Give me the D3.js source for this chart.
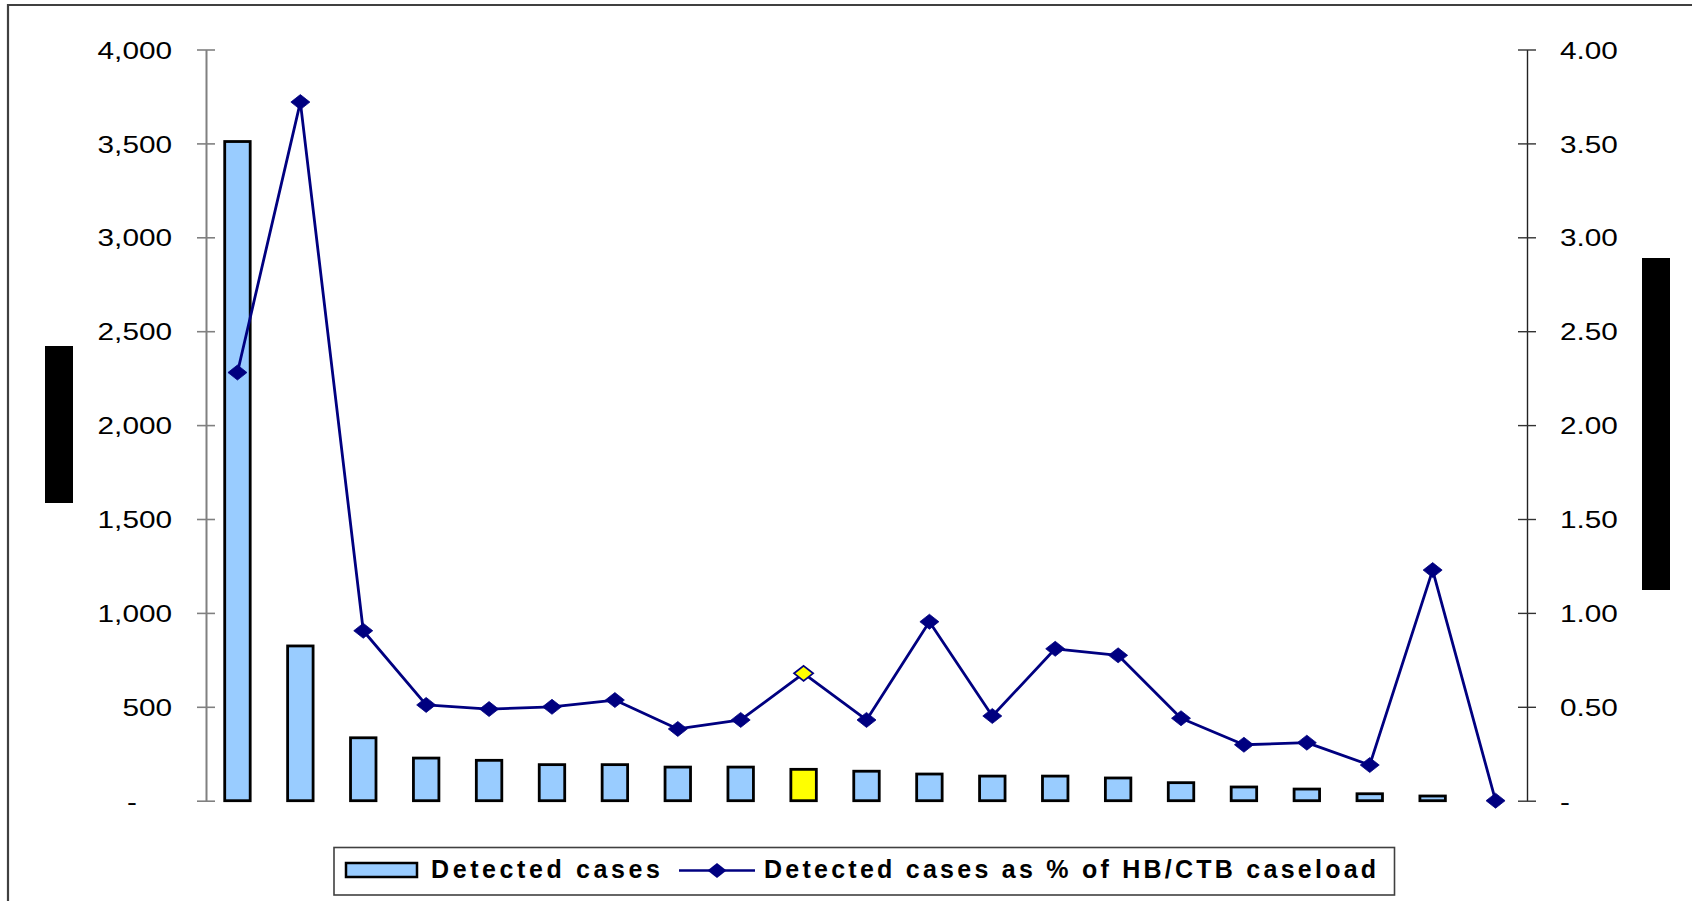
<!DOCTYPE html>
<html>
<head>
<meta charset="utf-8">
<script src="https://cdn.jsdelivr.net/npm/d3@7/dist/d3.min.js"></script>
<style>
  html, body { margin: 0; padding: 0; background: #fff; }
  svg { display: block; }
  .tick text { font-family: "Liberation Sans", Arial, sans-serif; font-size: 24px; fill: #000; }
</style>
</head>
<body>
<svg id="chart" width="1692" height="901"></svg>
<script>
// ---- data ----
const categories = ["C1","C2","C3","C4","C5","C6","C7","C8","C9","C10","C11",
                    "C12","C13","C14","C15","C16","C17","C18","C19","C20","C21"];
const detectedCases = [3510, 824, 335, 227, 215, 192, 192, 179, 179, 167, 157,
                       142, 131, 131, 121, 96, 73, 62, 37, 25, 0];
const pctOfCaseload = [2.28, 3.72, 0.905, 0.51, 0.488, 0.50, 0.536, 0.382, 0.43, 0.678, 0.43,
                       0.953, 0.451, 0.809, 0.774, 0.439, 0.298, 0.309, 0.19, 1.228, 0];
const highlightIndex = 9;
const leftTicks = [0, 500, 1000, 1500, 2000, 2500, 3000, 3500, 4000];
const rightTicks = [0, 0.5, 1, 1.5, 2, 2.5, 3, 3.5, 4];
const legendLabels = ["Detected cases", "Detected cases as % of HB/CTB caseload"];

// ---- layout ----
const svg = d3.select("#chart");
const plotLeft = 206, plotRight = 1527, plotTop = 49.5, plotBottom = 800.7;

const x = d3.scaleBand().domain(categories).range([plotLeft, plotRight]).padding(0);
const yL = d3.scaleLinear().domain([0, 4000]).range([plotBottom, plotTop]);
const yR = d3.scaleLinear().domain([0, 4]).range([plotBottom, plotTop]);

// chart area border (left & top visible)
svg.append("path")
  .attr("d", "M8,905 L8,5 L1700,5")
  .attr("fill", "none").attr("stroke", "#404040").attr("stroke-width", 2.2);

// redacted axis titles
svg.append("rect").attr("x", 45).attr("y", 346).attr("width", 28).attr("height", 157).attr("fill", "#000");
svg.append("rect").attr("x", 1642).attr("y", 258).attr("width", 28).attr("height", 332).attr("fill", "#000");

// left axis
const gL = svg.append("g").attr("transform", `translate(${plotLeft},0)`)
  .call(d3.axisLeft(yL).tickValues(leftTicks).tickSize(9).tickSizeOuter(0).tickPadding(25)
        .tickFormat(d => d === 0 ? "-" : d3.format(",")(d)));
gL.select(".domain").attr("stroke", "#808080").attr("stroke-width", 2);
gL.selectAll(".tick line").attr("x1", -9).attr("x2", 9).attr("stroke", "#808080").attr("stroke-width", 1.6);
gL.selectAll(".tick text")
  .attr("x", 0).attr("dy", "0.36em")
  .attr("transform", d => `translate(${d === 0 ? -69 : -34},0) scale(1.24,1)`);

// right axis
const gR = svg.append("g").attr("transform", `translate(${plotRight},0)`)
  .call(d3.axisRight(yR).tickValues(rightTicks).tickSize(9).tickSizeOuter(0).tickPadding(24)
        .tickFormat(d => d === 0 ? "-" : d3.format(".2f")(d)));
gR.select(".domain").attr("stroke", "#222").attr("stroke-width", 1.4);
gR.selectAll(".tick line").attr("x1", -9).attr("x2", 9).attr("stroke", "#333").attr("stroke-width", 1.4);
gR.selectAll(".tick text")
  .attr("x", 0).attr("dy", "0.36em")
  .attr("transform", `translate(33,0) scale(1.24,1)`);

// bars
const barW = x.bandwidth() * 0.405;
svg.append("g").selectAll("rect")
  .data(detectedCases)
  .join("rect")
  .attr("x", (d, i) => x(categories[i]) + x.bandwidth() / 2 - barW / 2)
  .attr("y", d => yL(d))
  .attr("width", barW)
  .attr("height", d => plotBottom - yL(d))
  .attr("fill", (d, i) => i === highlightIndex ? "#FFFF00" : "#99CCFF")
  .attr("stroke", "#000")
  .attr("stroke-width", 2.8)
  .attr("display", d => d > 0 ? null : "none");

// line
const cx = i => x(categories[i]) + x.bandwidth() / 2;
const line = d3.line().x((d, i) => cx(i)).y(d => yR(d));
svg.append("path").datum(pctOfCaseload)
  .attr("d", line).attr("fill", "none").attr("stroke", "#000080").attr("stroke-width", 2.8)
  .attr("stroke-linejoin", "round");

const diamond = "M0,-7.5 L9.5,0 L0,7.5 L-9.5,0 Z";
svg.append("g").selectAll("path")
  .data(pctOfCaseload)
  .join("path")
  .attr("d", diamond)
  .attr("transform", (d, i) => `translate(${cx(i)},${yR(d)})`)
  .attr("fill", (d, i) => i === highlightIndex ? "#FFFF00" : "#000080")
  .attr("stroke", "#000080")
  .attr("stroke-width", (d, i) => i === highlightIndex ? 1.8 : 0.8);

// legend
const lg = svg.append("g");
lg.append("rect").attr("x", 334).attr("y", 847.5).attr("width", 1060.5).attr("height", 47.5)
  .attr("fill", "#fff").attr("stroke", "#404040").attr("stroke-width", 1.6);
lg.append("rect").attr("x", 346).attr("y", 863).attr("width", 71).attr("height", 14)
  .attr("fill", "#99CCFF").attr("stroke", "#000").attr("stroke-width", 2.5);
lg.append("text").attr("x", 431).attr("y", 877.7)
  .attr("font-family", "'Liberation Sans', Arial, sans-serif").attr("font-weight", "bold")
  .attr("font-size", 25).attr("letter-spacing", "3.6px").text(legendLabels[0]);
lg.append("line").attr("x1", 679).attr("x2", 755).attr("y1", 870.5).attr("y2", 870.5)
  .attr("stroke", "#000080").attr("stroke-width", 2.6);
lg.append("path").attr("d", diamond).attr("transform", "translate(717,870.5)").attr("fill", "#000080");
lg.append("text").attr("x", 764).attr("y", 877.7)
  .attr("font-family", "'Liberation Sans', Arial, sans-serif").attr("font-weight", "bold")
  .attr("font-size", 25).attr("letter-spacing", "3.25px").text(legendLabels[1]);
</script>
</body>
</html>
